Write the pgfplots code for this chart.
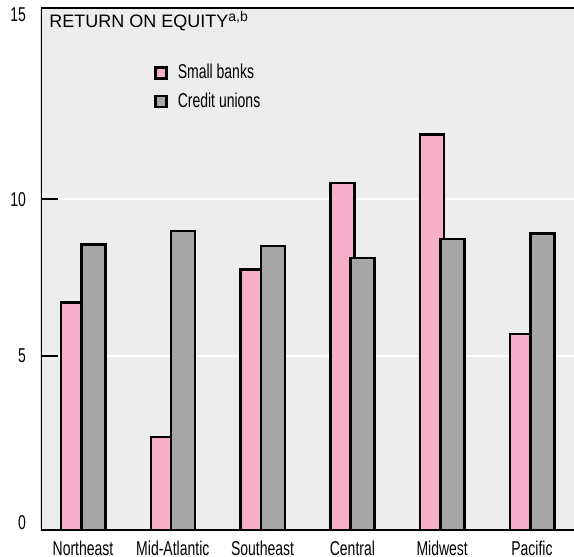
\documentclass[border=0pt]{standalone}
\usepackage{fontspec}
\setmainfont{Liberation Sans}
\newfontfamily\cond{Liberation Sans}[FakeStretch=0.7]
\usepackage{pgfplots}
\pgfplotsset{compat=1.18}
\definecolor{bg}{HTML}{EDEDED}
\definecolor{pinkbar}{HTML}{F7AFC9}
\definecolor{graybar}{HTML}{A6A6A6}

\pgfplotstableread{
x pink gray
0 6.54 8.21
1 2.68 8.59
2 7.49 8.16
3 9.97 7.81
4 11.36 8.36
5 5.64 8.52
}\roedata

\begin{document}
\begin{tikzpicture}
\begin{axis}[
  scale only axis, width=266.5pt, height=261.5pt,
  xmin=-0.468, xmax=5.468, ymin=0, ymax=15,
  axis background/.style={fill=bg},
  axis line style={draw=none},
  ybar, bar width=12pt,
  xtick={0,...,5},
  xticklabels={Northeast,Mid-Atlantic,Southeast,Central,Midwest,Pacific},
  xtick style={draw=none},
  ytick pos=left,
  ytick={5,9.5}, yticklabels={5,10},
  extra y ticks={0.215,14.78}, extra y tick labels={0,15},
  extra y tick style={major tick length=0pt, ymajorgrids=false},
  ymajorgrids, grid style={white, line width=1pt},
  tick align=inside, major tick length=8.5pt,
  ytick style={black, line width=1.2pt},
  tick label style={font=\cond\fontsize{10}{11}\selectfont},
  yticklabel style={xshift=-4pt},
  xticklabel style={yshift=-1.5pt},
  legend style={at={(rel axis cs:0.212,0.9)}, anchor=north west, draw=none, fill=none,
    font=\cond\fontsize{10}{11}\selectfont, row sep=1.5pt, inner sep=0pt,
    /tikz/every odd column/.append style={column sep=3pt}},
  legend cell align=left,
  legend image code/.code={\draw[#1, line width=1.2pt] (0pt,-2.75pt) rectangle (5.5pt,2.75pt);},
]
\addplot[fill=pinkbar, draw=black, line width=1.3pt, bar shift=-5pt] table[x=x, y=pink] {\roedata};
\addlegendentry{Small banks}
\addplot[fill=graybar, draw=black, line width=1.3pt, bar shift=5.15pt] table[x=x, y=gray] {\roedata};
\addlegendentry{Credit unions}
\draw[line width=1.3pt] (rel axis cs:1,1) -- (rel axis cs:0,1) -- (rel axis cs:0,0) -- (rel axis cs:1,0);
\node[anchor=base west, font=\fontsize{9}{10}\selectfont, inner sep=0pt] at (rel axis cs:0.015,0.961) {RETURN ON EQUITY\raisebox{3.4pt}{\fontsize{7}{8}\selectfont a,b}};
\end{axis}
\pgfresetboundingbox
\path (-20.5pt,-13.25pt) rectangle (266.5pt,265.25pt);
\end{tikzpicture}
\end{document}
